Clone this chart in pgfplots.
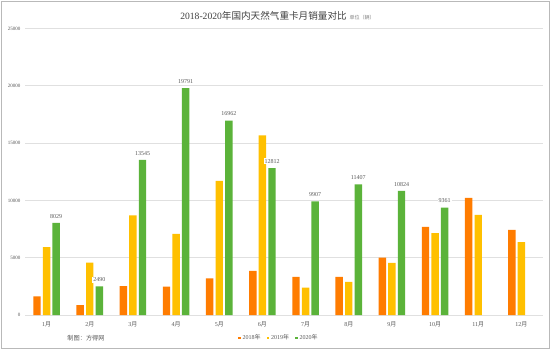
\documentclass[border=0pt]{standalone}
\usepackage{fontspec}
\setmainfont{Liberation Serif}
\newfontfamily\cjk{Noto Sans CJK SC}
\usepackage{pgfplots}
\pgfplotsset{compat=1.18}
\definecolor{c18}{HTML}{FF7C00}
\definecolor{c19}{HTML}{FFC000}
\definecolor{c20}{HTML}{5BB33A}
\definecolor{txt}{HTML}{595959}
\definecolor{ttl}{HTML}{404040}
\definecolor{gridc}{HTML}{E0E0E0}
\newcommand\yue{{\cjk 月}}
\newcommand\nian{{\cjk 年}}
\begin{document}
\begin{tikzpicture}
\useasboundingbox (0pt,0pt) rectangle (554pt,351pt);
\fill[white] (0pt,0pt) rectangle (554pt,351pt);
\draw[gray!55, line width=0.8pt] (1pt,3pt) rectangle (549pt,350pt);
\begin{axis}[
  at={(25pt,36pt)}, anchor=south west, scale only axis,
  width=518pt, height=286.5pt,
  xmin=0.5, xmax=12.5, ymin=0, ymax=25000,
  ybar=2.2pt, bar width=7.4pt,
  axis line style={draw=none},
  ymajorgrids, grid style={draw=gridc, line width=0.6pt},
  ytick={0,5000,...,25000},
  tick style={draw=none},
  major tick length=0pt,
  yticklabel style={font=\fontsize{5}{5}\selectfont, text=txt, xshift=-1pt},
  /pgf/number format/assume math mode=true,
  /pgf/number format/1000 sep={},
  scaled y ticks=false,
  xtick={1,...,12},
  xticklabels={1\yue,2\yue,3\yue,4\yue,5\yue,6\yue,7\yue,8\yue,9\yue,10\yue,11\yue,12\yue},
  xticklabel style={font=\fontsize{6}{7}\selectfont, text=txt, yshift=-3pt},
  legend columns=3,
  legend style={at={(0.49,-0.08)}, anchor=center, draw=none, fill=none,
    font=\fontsize{6}{7}\selectfont, text=txt,
    /tikz/every even column/.append style={column sep=4pt}},
  legend image code/.code={\fill[#1] (0pt,-1.2pt) rectangle (2.6pt,1.4pt);},
]
\addplot[fill=c18, draw=none] coordinates {
 (1,1630) (2,870) (3,2530) (4,2470) (5,3200) (6,3840)
 (7,3320) (8,3320) (9,5000) (10,7680) (11,10210) (12,7420)};
\addplot[fill=c19, draw=none] coordinates {
 (1,5930) (2,4560) (3,8700) (4,7070) (5,11700) (6,15670)
 (7,2380) (8,2880) (9,4540) (10,7150) (11,8730) (12,6370)};
\addplot[fill=c20, draw=none, nodes near coords,
  every node near coord/.append style={font=\fontsize{6}{7}\selectfont, text=txt,
    fill=white, inner sep=1pt, yshift=3.5pt}] coordinates {
 (1,8029) (2,2490) (3,13545) (4,19791) (5,16962) (6,12812)
 (7,9907) (8,11407) (9,10824) (10,9361)};
\legend{2018\nian, 2019\nian, 2020\nian}
\end{axis}
\node[font=\fontsize{9.6}{11}\selectfont, text=ttl] at (277.5pt,335pt)
  {2018-2020{\cjk 年国内天然气重卡月销量对比}\hspace{3pt}{\fontsize{5}{6}\selectfont\color{gray}{\cjk 单位（辆）}}};
\node[font=\fontsize{6.2}{7}\selectfont, text=txt] at (86pt,13pt) {{\cjk 制图：方得网}};
\end{tikzpicture}
\end{document}
